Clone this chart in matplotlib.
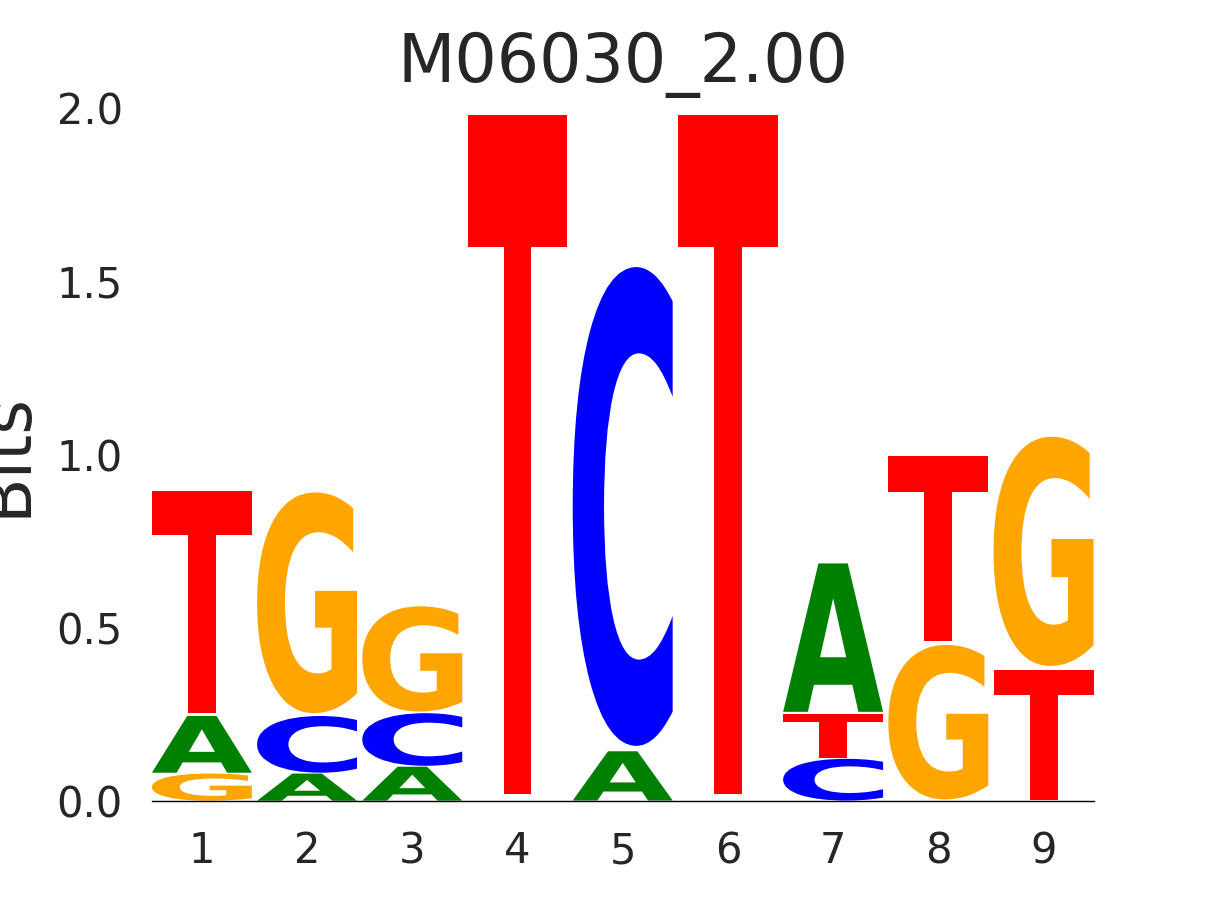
import numpy as np
import matplotlib
matplotlib.use("Agg")
import matplotlib.pyplot as plt
from matplotlib.textpath import TextPath
from matplotlib.patches import PathPatch
from matplotlib.font_manager import FontProperties
from matplotlib.transforms import Affine2D

# Information content (bits) of each base at each position
positions = [1, 2, 3, 4, 5, 6, 7, 8, 9]
bits_A = [0.167, 0.080, 0.100, 0.0, 0.145, 0.0, 0.437, 0.0, 0.0]
bits_C = [0.0, 0.167, 0.155, 0.0, 1.410, 0.0, 0.123, 0.0, 0.0]
bits_G = [0.080, 0.650, 0.310, 0.0, 0.0, 0.0, 0.0, 0.455, 0.675]
bits_T = [0.653, 0.0, 0.0, 2.0, 0.0, 2.0, 0.130, 0.545, 0.383]

colors = {'A': '#008000', 'C': '#0000ff', 'G': '#ffa500', 'T': '#ff0000'}
font = FontProperties(family='DejaVu Sans', weight='bold')
width = 0.95
vpad = 0.02


def draw_glyph(ax, char, x, floor, height, color):
    path = TextPath((0, 0), char, size=1, prop=font)
    ext = path.get_extents()
    pad = vpad * height / 2
    h = height - 2 * pad
    tr = (Affine2D()
          .translate(-ext.x0, -ext.y0)
          .scale(width / ext.width, h / ext.height)
          .translate(x - width / 2, floor + pad))
    patch = PathPatch(tr.transform_path(path), facecolor=color,
                      edgecolor='none', linewidth=0)
    ax.add_patch(patch)


fig, ax = plt.subplots(figsize=(12.15, 9), dpi=100)

table = {'A': bits_A, 'C': bits_C, 'G': bits_G, 'T': bits_T}
for i, pos in enumerate(positions):
    stack = sorted([(table[b][i], b) for b in 'ACGT' if table[b][i] > 0])
    floor = 0.0
    for h, b in stack:
        draw_glyph(ax, b, pos, floor, h, colors[b])
        floor += h

ax.set_xlim(positions[0] - width / 2, positions[-1] + width / 2)
ax.set_ylim(0, 2.0)
ax.set_xticks(positions)
ax.set_yticks([0.0, 0.5, 1.0, 1.5, 2.0])
ax.set_yticklabels(['0.0', '0.5', '1.0', '1.5', '2.0'])
ax.tick_params(length=0, pad=21, labelsize=30, colors='#262626')

for s in ['top', 'right', 'left']:
    ax.spines[s].set_visible(False)
ax.spines['bottom'].set_color('black')
ax.spines['bottom'].set_linewidth(1.0)

ax.set_ylabel('Bits', fontsize=48, color='#262626', labelpad=12)
ax.set_title('M06030_2.00', fontsize=48, color='#262626', pad=19)

plt.savefig('out.png', dpi=100)
